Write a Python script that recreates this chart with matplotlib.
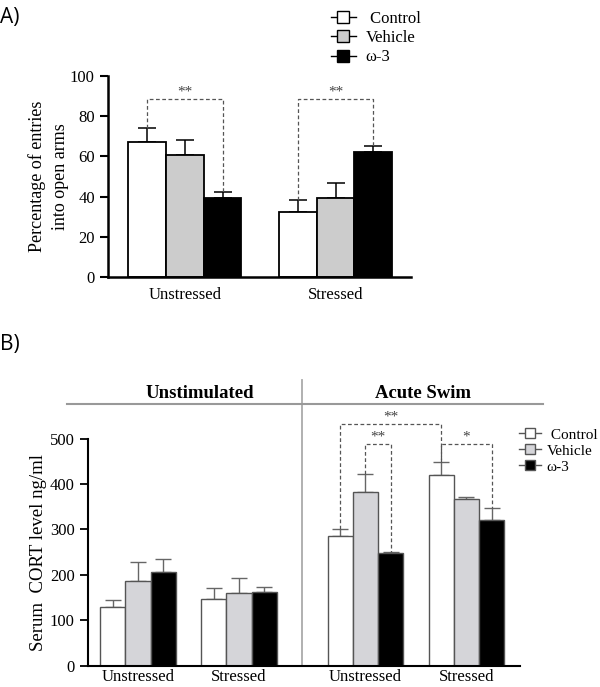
import matplotlib
matplotlib.use("Agg")
import matplotlib.pyplot as plt
from matplotlib.lines import Line2D
import numpy as np

plt.rcParams['font.family'] = ['Liberation Serif', 'DejaVu Serif']

groups_a = ['Unstressed', 'Stressed']
ctrl_a = [67.3, 32.4]
ctrl_a_err = [6.6, 6.1]
veh_a = [60.5, 39.4]
veh_a_err = [7.6, 7.4]
om3_a = [39.2, 62.3]
om3_a_err = [3.2, 3.1]

groups_b = ['Unstressed', 'Stressed', 'Unstressed', 'Stressed']
ctrl_b = [130, 147, 286, 420]
ctrl_b_err = [14, 24, 16, 29]
veh_b = [187, 161, 382, 367]
veh_b_err = [42, 32, 39, 5]
om3_b = [206, 163, 248, 321]
om3_b_err = [30, 11, 2, 26]

series_names = ['Control', 'Vehicle', 'ω-3']

fig = plt.figure(figsize=(6, 6.87), dpi=100)

# ---------- panel A ----------
axA = fig.add_axes([0.18, 0.5968, 0.505, 0.2926])
xa = np.arange(len(groups_a))
w = 0.25
cols_a = ['white', '#cccccc', 'black']
vals_a = [ctrl_a, veh_a, om3_a]
errs_a = [ctrl_a_err, veh_a_err, om3_a_err]
for i in range(3):
    pos = xa + (i - 1) * w
    axA.bar(pos, vals_a[i], w, color=cols_a[i], edgecolor='black', lw=1.3, zorder=2)
    axA.errorbar(pos, vals_a[i], yerr=[np.zeros(2), errs_a[i]], fmt='none',
                 ecolor='black', elinewidth=1.1, capsize=6.5, capthick=1.1, zorder=1)

tops_c = np.array(ctrl_a) + np.array(ctrl_a_err)
tops_o = np.array(om3_a) + np.array(om3_a_err)
for g in range(2):
    h = 88.4
    x0, x1 = xa[g] - w, xa[g] + w
    axA.plot([x0, x0, x1, x1], [tops_c[g], h, h, tops_o[g]], ls=(0, (3, 2)),
             color='#555555', lw=0.9, zorder=3)
    axA.text(xa[g], h + 0.3, '**', ha='center', va='bottom', fontsize=11, color='#444444')

axA.set_xlim(-0.51, 1.5)
axA.set_ylim(0, 100)
axA.set_yticks(range(0, 101, 20))
axA.set_xticks(xa)
axA.set_xticklabels(groups_a, fontsize=12)
axA.tick_params(axis='x', length=0, pad=7)
axA.tick_params(axis='y', labelsize=12, width=1.5, length=6)
for s in ['top', 'right']:
    axA.spines[s].set_visible(False)
for s in ['left', 'bottom']:
    axA.spines[s].set_linewidth(1.8)
axA.set_ylabel('Percentage of entries\ninto open arms', fontsize=13, labelpad=1,
               linespacing=1.45)

handles_a = [Line2D([0], [0], marker='s', color='black', lw=1, ms=8,
                    mfc=c, mec='black') for c in cols_a]
fig.legend(handles_a, [' ' + series_names[0], series_names[1], series_names[2]],
           loc='upper left', bbox_to_anchor=(0.54, 0.994), frameon=False,
           fontsize=12, handlelength=1.5, handletextpad=0.6, labelspacing=0.2,
           borderaxespad=0)

fig.text(0.0, 0.975, 'A)', fontsize=15, family='Open Sans', va='center')

# ---------- panel B ----------
axB = fig.add_axes([0.1467, 0.0306, 0.72, 0.3311])
xb = np.array([0, 1, 2.25, 3.25])
cols_b = ['white', '#d5d5d9', 'black']
vals_b = [ctrl_b, veh_b, om3_b]
errs_b = [ctrl_b_err, veh_b_err, om3_b_err]
for i in range(3):
    pos = xb + (i - 1) * w
    axB.bar(pos, vals_b[i], w, color=cols_b[i], edgecolor='#555555', lw=1.0, zorder=2)
    axB.errorbar(pos, vals_b[i], yerr=[np.zeros(4), errs_b[i]], fmt='none',
                 ecolor='#666666', elinewidth=1.0, capsize=5.5, capthick=1.0, zorder=1)

ctop = np.array(ctrl_b) + np.array(ctrl_b_err)
vtop = np.array(veh_b) + np.array(veh_b_err)
otop = np.array(om3_b) + np.array(om3_b_err)
dash = dict(ls=(0, (3, 2)), color='#555555', lw=0.9, zorder=3, clip_on=False)
axB.plot([xb[2] - w, xb[2] - w, xb[3] - w, xb[3] - w], [ctop[2], 531, 531, ctop[3]], **dash)
axB.plot([xb[2], xb[2], xb[2] + w, xb[2] + w], [vtop[2], 487, 487, otop[2]], **dash)
axB.plot([xb[3] - w, xb[3] - w, xb[3] + w, xb[3] + w], [ctop[3], 487, 487, otop[3]], **dash)
star = dict(ha='center', va='bottom', fontsize=11, color='#444444', clip_on=False)
axB.text((xb[2] + xb[3]) / 2 - w, 532, '**', **star)
axB.text(xb[2] + w / 2, 488, '**', **star)
axB.text(xb[3], 488, '*', **star)

axB.set_xlim(-0.495, 3.78)
axB.set_ylim(0, 500)
axB.set_yticks(range(0, 501, 100))
axB.set_xticks(xb)
axB.set_xticklabels(groups_b, fontsize=12)
axB.tick_params(axis='x', length=0, pad=2)
axB.tick_params(axis='y', labelsize=12, width=1.3, length=6)
for s in ['top', 'right']:
    axB.spines[s].set_visible(False)
for s in ['left', 'bottom']:
    axB.spines[s].set_linewidth(1.5)
axB.set_ylabel('Serum  CORT level ng/ml', fontsize=13.5, labelpad=2)

axB.axvline(1.625, ymin=0, ymax=1.257, color='#aaaaaa', lw=1.3, clip_on=False)
axB.plot([-0.049, 1.053], [1.152, 1.152], transform=axB.transAxes, color='#999999',
         lw=1.5, clip_on=False)
axB.text(0.259, 1.2, 'Unstimulated', transform=axB.transAxes, ha='center', va='center',
         fontsize=13.5, fontweight='bold')
axB.text(0.775, 1.2, 'Acute Swim', transform=axB.transAxes, ha='center', va='center',
         fontsize=13.5, fontweight='bold')

handles_b = [Line2D([0], [0], marker='s', color='#555555', lw=1, ms=7,
                    mfc=c, mec='#555555') for c in cols_b]
fig.legend(handles_b, [' ' + series_names[0], series_names[1], series_names[2]],
           loc='upper left', bbox_to_anchor=(0.855, 0.386), frameon=False,
           fontsize=11, handlelength=1.4, handletextpad=0.4, labelspacing=0.15,
           borderaxespad=0)

fig.text(0.0, 0.498, 'B)', fontsize=15, family='Open Sans', va='center')

fig.savefig('out.png', dpi=100)
